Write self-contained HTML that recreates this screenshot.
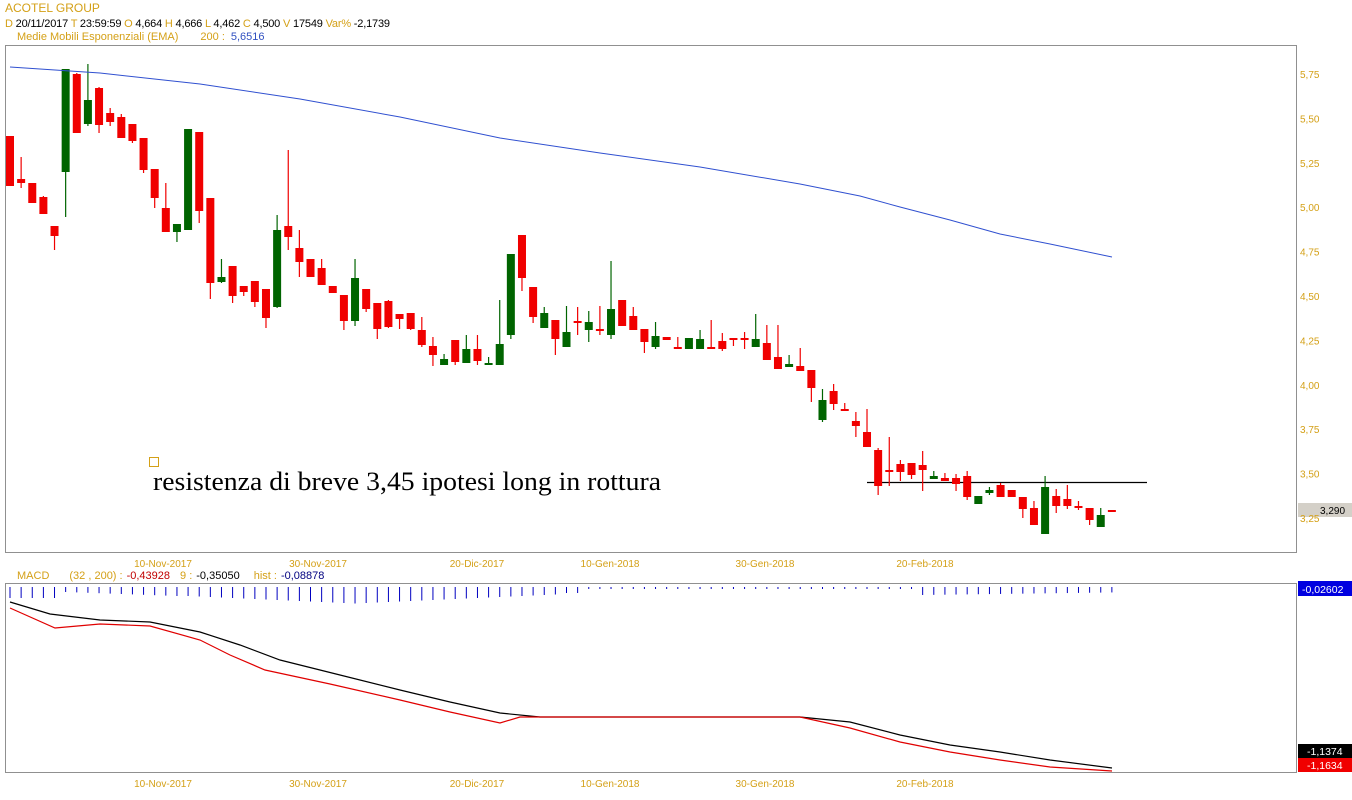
<!DOCTYPE html>
<html><head><meta charset="utf-8"><style>
body{margin:0;background:#fff;width:1352px;height:800px;overflow:hidden;font-family:"Liberation Sans",sans-serif}
svg{position:absolute;left:0;top:0}
</style></head><body>
<svg id="s" width="1352" height="800" xmlns="http://www.w3.org/2000/svg" font-family="Liberation Sans, sans-serif">
<rect x="5.5" y="45.5" width="1291" height="507" fill="none" stroke="#909090"/>
<rect x="5.5" y="583.5" width="1291" height="189" fill="none" stroke="#909090"/>
<text x="5" y="12" font-size="12" fill="#d4a017">ACOTEL GROUP</text>
<text x="5" y="27" font-size="11" fill="#000" textLength="385"><tspan fill="#d4a017">D</tspan> 20/11/2017 <tspan fill="#d4a017">T</tspan> 23:59:59 <tspan fill="#d4a017"> O</tspan> 4,664 <tspan fill="#d4a017"> H</tspan> 4,666 <tspan fill="#d4a017"> L</tspan> 4,462 <tspan fill="#d4a017"> C</tspan> 4,500 <tspan fill="#d4a017">  V</tspan> 17549 <tspan fill="#d4a017">  Var%</tspan> -2,1739</text>
<text x="17" y="40" font-size="11" fill="#d4a017">Medie Mobili Esponenziali (EMA)<tspan dx="22">200 :</tspan><tspan dx="6" fill="#3050c0">5,6516</tspan></text>
<text x="17" y="579" font-size="11" fill="#d4a017">MACD<tspan dx="20">(32 , 200) :</tspan><tspan dx="4" fill="#c00000">-0,43928</tspan><tspan dx="10">9 :</tspan><tspan dx="4" fill="#000">-0,35050</tspan><tspan dx="14">hist :</tspan><tspan dx="4" fill="#000080">-0,08878</tspan></text>
<rect x="149.5" y="457.5" width="9" height="9" fill="none" stroke="#d4a017"/>
<text x="153" y="490" font-family="Liberation Serif, serif" font-size="26" fill="#000" textLength="508" lengthAdjust="spacingAndGlyphs">resistenza di breve 3,45 ipotesi long in rottura</text>
<line x1="867" y1="482.5" x2="1147" y2="482.5" stroke="#000" stroke-width="1.2"/>
<rect x="1298" y="503" width="54" height="14" fill="#d4d0c8"/>
<text x="1320" y="514" font-size="10" fill="#000">3,290</text>
<rect x="1298" y="581" width="54" height="15" fill="#0000e0"/>
<text x="1302" y="593" font-size="10.5" fill="#fff">-0,02602</text>
<rect x="1298" y="744" width="54" height="14" fill="#000"/>
<text x="1307" y="755" font-size="10.5" fill="#fff">-1,1374</text>
<rect x="1298" y="758" width="54" height="14" fill="#f00000"/>
<text x="1307" y="769" font-size="10.5" fill="#fff">-1,1634</text>
<g id="g"></g>
</svg>
<script>
var g=document.getElementById('g'),h='';
var labels=['5,75','5,50','5,25','5,00','4,75','4,50','4,25','4,00','3,75','3,50','3,25'];
for(var i=0;i<labels.length;i++){var y=74+i*44.4;h+='<text x="1300" y="'+(y+4)+'" font-size="10" fill="#d4a017">'+labels[i]+'</text>';}
var dates=[[163,'10-Nov-2017'],[318,'30-Nov-2017'],[477,'20-Dic-2017'],[610,'10-Gen-2018'],[765,'30-Gen-2018'],[925,'20-Feb-2018']];
dates.forEach(function(d){h+='<text x="'+d[0]+'" y="567" font-size="10" fill="#d4a017" text-anchor="middle">'+d[1]+'</text>';h+='<text x="'+d[0]+'" y="787" font-size="10" fill="#d4a017" text-anchor="middle">'+d[1]+'</text>';});
var C=[[136,186,136,186,'r'],[179,183,157,188,'r'],[183,203,183,203,'r'],[197,214,196,214,'r'],[226,236,226,250,'r'],[69,172,69,217,'g'],[74,133,73,133,'r'],[100,124,64,126,'g'],[88,125,87,133,'r'],[113,122,108,126,'r'],[117,138,114,138,'r'],[124,141,124,143,'r'],[138,170,138,173,'r'],[169,198,169,208,'r'],[208,232,183,232,'r'],[224,232,224,242,'g'],[129,230,129,230,'g'],[132,211,132,223,'r'],[198,283,198,299,'r'],[277,282,259,283,'g'],[266,296,266,303,'r'],[286,292,286,296,'r'],[281,302,281,307,'r'],[289,318,289,328,'r'],[230,307,215,308,'g'],[226,237,150,250,'r'],[248,262,230,277,'r'],[259,277,259,277,'r'],[268,285,259,285,'r'],[286,293,286,293,'r'],[295,321,295,330,'r'],[278,321,259,326,'g'],[289,309,289,312,'r'],[303,329,303,339,'r'],[301,327,300,328,'r'],[314,319,314,329,'r'],[313,329,313,330,'r'],[330,345,317,347,'r'],[346,355,337,366,'r'],[359,365,354,365,'g'],[340,362,340,365,'r'],[349,363,335,363,'g'],[349,361,335,365,'r'],[363,365,357,365,'g'],[344,365,300,365,'g'],[254,335,254,339,'g'],[235,278,235,291,'r'],[287,317,287,323,'r'],[313,328,307,328,'g'],[320,339,320,355,'r'],[332,347,306,347,'g'],[321,323,307,335,'r'],[322,330,311,342,'g'],[329,331,306,335,'r'],[309,335,261,339,'g'],[300,326,300,326,'r'],[316,330,307,330,'r'],[329,342,329,353,'r'],[336,347,322,349,'g'],[337,340,337,340,'r'],[347,349,337,349,'r'],[338,349,338,349,'g'],[339,349,330,349,'g'],[347,349,320,349,'r'],[341,349,333,351,'r'],[338,340,338,346,'r'],[338,340,332,349,'r'],[339,347,314,347,'g'],[343,360,325,360,'r'],[357,369,325,369,'r'],[364,367,355,367,'g'],[366,371,348,371,'r'],[370,388,370,402,'r'],[400,420,389,422,'g'],[391,404,384,410,'r'],[409,411,403,411,'r'],[421,426,412,437,'r'],[432,447,409,447,'r'],[450,486,448,495,'r'],[470,472,437,486,'r'],[464,472,460,481,'r'],[463,475,463,479,'r'],[465,470,451,491,'r'],[476,479,471,479,'g'],[478,481,473,481,'r'],[478,484,474,491,'r'],[476,497,471,500,'r'],[496,504,496,504,'g'],[490,493,487,495,'g'],[485,497,483,497,'r'],[490,497,490,497,'r'],[497,509,497,518,'r'],[508,525,501,525,'r'],[487,534,476,534,'g'],[496,506,489,513,'r'],[499,506,485,509,'r'],[506,508,501,510,'r'],[508,520,508,525,'r'],[515,527,508,527,'g'],[510,511,510,511,'r']];
var col={r:'#f00000',g:'#006400'};
for(var i=0;i<C.length;i++){var c=C[i],x=10+i*11.13,k=col[c[4]];
h+='<line x1="'+x+'" y1="'+c[2]+'" x2="'+x+'" y2="'+c[3]+'" stroke="'+k+'" stroke-width="1.2"/>';
var bh=Math.max(c[1]-c[0],2);h+='<rect x="'+(x-4)+'" y="'+c[0]+'" width="8" height="'+bh+'" fill="'+k+'"/>';
var L;if(i<5)L=11;else if(i<16)L=5+ (i-5)*0.4;else if(i<32)L=9+(i-16)*0.5;else if(i<50)L=16-(i-32)*0.5;else if(i<52)L=6;else if(i<82)L=2;else L=8-(i-82)*0.15;
h+='<line x1="'+x+'" y1="587" x2="'+x+'" y2="'+(587+L)+'" stroke="#0000c0" stroke-width="1"/>';}
h+='<polyline fill="none" stroke="#3050d0" stroke-width="1" points="10,67 100,73 200,84 300,99 400,117 500,138 600,153 700,167 800,184 860,196 900,207 950,220 1000,234 1050,244 1112,257"/>';
h+='<polyline fill="none" stroke="#000" stroke-width="1.2" points="10,602 50,614 100,620 150,622 200,632 240,645 280,660 340,675 400,690 450,702 500,713 540,717 600,717 700,717 800,717 850,722 900,735 950,745 1000,752 1050,760 1112,768"/>';
h+='<polyline fill="none" stroke="#e00000" stroke-width="1.2" points="10,608 55,628 100,624 150,626 200,640 230,655 265,670 330,684 400,700 450,712 500,723 520,717 600,717 700,717 800,717 850,728 900,742 950,752 1000,760 1050,767 1112,771"/>';
g.innerHTML=h;
</script>
</body></html>
